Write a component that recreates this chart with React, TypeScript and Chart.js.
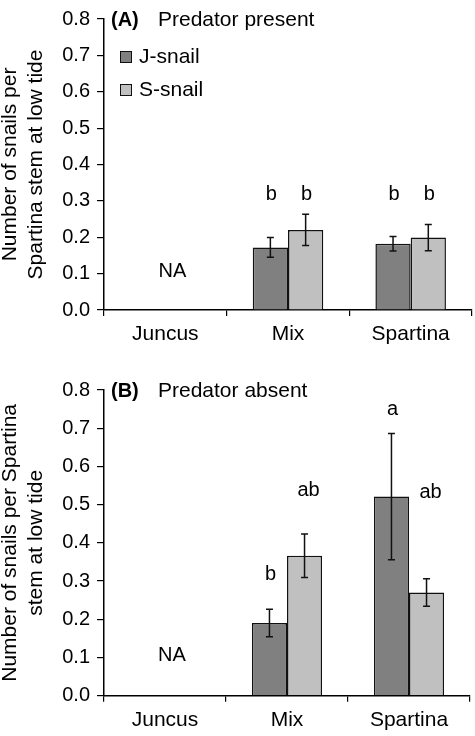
import React, { useEffect, useRef } from "react";
import { Chart, registerables } from "chart.js";
Chart.register(...registerables);

const categories = ["Juncus", "Mix", "Spartina"];
const seriesNames = ["J-snail", "S-snail"];
const seriesColors = ["#808080", "#c0c0c0"];

// Panel A: Predator present
const aJ = [null, 0.172, 0.182];
const aS = [null, 0.22, 0.199];
const aJErr = [null, 0.027, 0.02];
const aSErr = [null, 0.043, 0.036];
const aJLetters = ["", "b", "b"];
const aSLetters = ["", "b", "b"];
const aJLetterAt = [null, 0.318, 0.318];
const aSLetterAt = [null, 0.318, 0.318];

// Panel B: Predator absent
const bJ = [null, 0.19, 0.521];
const bS = [null, 0.366, 0.27];
const bJErr = [null, 0.036, 0.165];
const bSErr = [null, 0.057, 0.036];
const bJLetters = ["", "b", "a"];
const bSLetters = ["", "ab", "ab"];
const bJLetterAt = [null, 0.316, 0.75];
const bSLetterAt = [null, 0.537, 0.532];

const naText = "NA";
const naAt = 0.105;

const FONT = "'Liberation Sans', Arial, sans-serif";

type PanelProps = {
  tag: string;
  title: string;
  yTitle: string[];
  j: (number | null)[];
  s: (number | null)[];
  jErr: (number | null)[];
  sErr: (number | null)[];
  jLetters: string[];
  sLetters: string[];
  jLetterAt: (number | null)[];
  sLetterAt: (number | null)[];
  showLegend: boolean;
  width: number;
  height: number;
  padTop: number;
  padRight: number;
  xHeight: number;
};

function Panel(p: PanelProps) {
  const ref = useRef<HTMLCanvasElement | null>(null);
  useEffect(() => {
    if (!ref.current) return;
    const errs = [p.jErr, p.sErr];
    const letters = [p.jLetters, p.sLetters];
    const letterAt = [p.jLetterAt, p.sLetterAt];

    const annot = {
      id: "annot",
      afterDatasetsDraw(chart: any) {
        const ctx = chart.ctx;
        const y = chart.scales.y;
        const x = chart.scales.x;
        const ca = chart.chartArea;
        ctx.save();
        // error bars
        ctx.strokeStyle = "#111";
        ctx.lineWidth = 1.5;
        chart.data.datasets.forEach((ds: any, di: number) => {
          const meta = chart.getDatasetMeta(di);
          meta.data.forEach((bar: any, i: number) => {
            const v = ds.data[i];
            const e = errs[di][i];
            if (v == null || e == null) return;
            const cx = bar.x;
            const y1 = y.getPixelForValue(v + e);
            const y2 = y.getPixelForValue(v - e);
            ctx.beginPath();
            ctx.moveTo(cx, y1);
            ctx.lineTo(cx, y2);
            ctx.moveTo(cx - 3.5, y1);
            ctx.lineTo(cx + 3.5, y1);
            ctx.moveTo(cx - 3.5, y2);
            ctx.lineTo(cx + 3.5, y2);
            ctx.stroke();
            const lt = letters[di][i];
            const la = letterAt[di][i];
            if (lt && la != null) {
              ctx.fillStyle = "#000";
              ctx.font = `20px ${FONT}`;
              ctx.textAlign = "center";
              ctx.textBaseline = "middle";
              ctx.fillText(lt, cx + (lt.length > 1 ? 4 : 1), y.getPixelForValue(la));
            }
          });
        });
        // NA
        ctx.fillStyle = "#000";
        ctx.font = `20px ${FONT}`;
        ctx.textAlign = "center";
        ctx.textBaseline = "middle";
        ctx.fillText(naText, x.getPixelForValue(0) + 7, y.getPixelForValue(naAt));
        // title
        ctx.textAlign = "left";
        ctx.font = `bold 20px ${FONT}`;
        ctx.fillText(p.tag, ca.left + 7, ca.top + 1);
        ctx.font = `21px ${FONT}`;
        ctx.fillText(p.title, ca.left + 54, ca.top + 1);
        // legend
        if (p.showLegend) {
          seriesNames.forEach((n, k) => {
            const cy = ca.top + 38 + k * 33;
            ctx.fillStyle = seriesColors[k];
            ctx.fillRect(ca.left + 16, cy - 6, 12, 12);
            ctx.strokeStyle = "#111";
            ctx.lineWidth = 1;
            ctx.strokeRect(ca.left + 16.5, cy - 5.5, 11, 11);
            ctx.fillStyle = "#000";
            ctx.font = `21px ${FONT}`;
            ctx.fillText(n, ca.left + 35, cy);
          });
        }
        ctx.restore();
      },
    };

    const chart = new Chart(ref.current, {
      type: "bar",
      data: {
        labels: categories,
        datasets: [
          {
            label: seriesNames[0],
            data: p.j as any,
            backgroundColor: seriesColors[0],
            borderColor: "#111",
            borderWidth: 1.5,
            borderSkipped: "bottom",
          },
          {
            label: seriesNames[1],
            data: p.s as any,
            backgroundColor: seriesColors[1],
            borderColor: "#111",
            borderWidth: 1.5,
            borderSkipped: "bottom",
          },
        ],
      },
      options: {
        animation: false,
        responsive: false,
        devicePixelRatio: 1,
        layout: { padding: { left: 0, right: p.padRight, top: p.padTop, bottom: 0 } },
        datasets: { bar: { categoryPercentage: 0.575, barPercentage: 1.0 } },
        plugins: { legend: { display: false }, tooltip: { enabled: false } },
        scales: {
          x: {
            offset: true,
            grid: { offset: true, drawOnChartArea: false, drawTicks: true, tickLength: 6, color: "#000", lineWidth: 1.2 },
            border: { color: "#000", width: 1.5 },
            ticks: { color: "#000", font: { family: FONT, size: 21 }, padding: 6 },
            afterFit: (scale: any) => {
              scale.height = p.xHeight;
            },
          },
          y: {
            min: 0,
            max: 0.8,
            grid: { drawOnChartArea: false, drawTicks: true, tickLength: 7, color: "#000", lineWidth: 1.2 },
            border: { color: "#000", width: 1.5 },
            ticks: {
              stepSize: 0.1,
              color: "#000",
              font: { family: FONT, size: 20 },
              padding: 7,
              callback: (v: any) => Number(v).toFixed(1),
            },
            title: {
              display: true,
              text: p.yTitle,
              color: "#000",
              font: { family: FONT, size: 21, lineHeight: 1.2 },
              padding: { top: -2, bottom: 0 },
            },
            afterFit: (scale: any) => {
              scale.width = 104;
            },
          },
        },
      },
      plugins: [annot],
    } as any);
    return () => chart.destroy();
  }, []);
  return (
    <canvas
      ref={ref}
      width={p.width}
      height={p.height}
      style={{ display: "block", width: p.width, height: p.height }}
    />
  );
}

export default function App() {
  return (
    <div style={{ position: "absolute", left: 0, top: 0, width: 475, height: 736, background: "#fff" }}>
      <Panel
        tag="(A)"
        title="Predator present"
        yTitle={["Number of snails per", "Spartina stem at low tide"]}
        j={aJ}
        s={aS}
        jErr={aJErr}
        sErr={aSErr}
        jLetters={aJLetters}
        sLetters={aSLetters}
        jLetterAt={aJLetterAt}
        sLetterAt={aSLetterAt}
        showLegend={true}
        width={475}
        height={368}
        padTop={13}
        padRight={3}
        xHeight={58}
      />
      <Panel
        tag="(B)"
        title="Predator absent"
        yTitle={["Number of snails per Spartina", "stem at low tide"]}
        j={bJ}
        s={bS}
        jErr={bJErr}
        sErr={bSErr}
        jLetters={bJLetters}
        sLetters={bSLetters}
        jLetterAt={bJLetterAt}
        sLetterAt={bSLetterAt}
        showLegend={false}
        width={475}
        height={368}
        padTop={22}
        padRight={5}
        xHeight={40.3}
      />
    </div>
  );
}
